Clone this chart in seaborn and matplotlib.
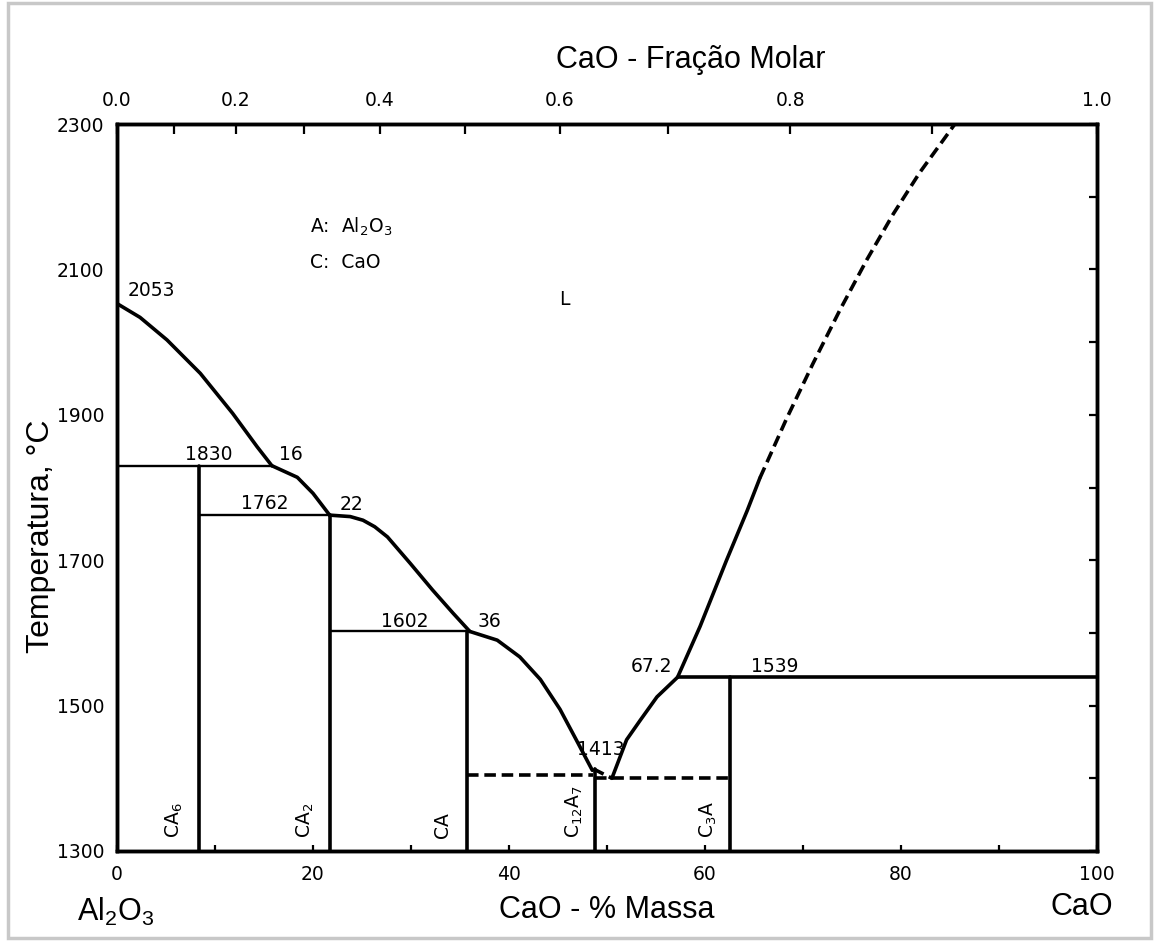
import numpy as np
import matplotlib
matplotlib.use("Agg")
import matplotlib.pyplot as plt
from matplotlib.patches import Rectangle
from matplotlib.ticker import MultipleLocator, FixedLocator, NullFormatter
import seaborn as sns

# STYLE
sns.set_theme(style="white")
plt.rcParams.update({
    "font.family": ["DejaVu Sans"],
    "axes.linewidth": 2.5,
    "axes.edgecolor": "black",
    "text.color": "black",
    "xtick.color": "black",
    "ytick.color": "black",
    "axes.labelcolor": "black",
})

BIG_FONT = ["Liberation Sans", "DejaVu Sans"]

# DATA (CaO % massa, temperatura em C)
# liquidus curves
liq_al2o3_x = [0, 2.35, 5.1, 8.5, 11.8, 14.3, 15.8]
liq_al2o3_T = [2053, 2034, 2003, 1957, 1902, 1856, 1830]

liq_ca6_x = [15.8, 18.4, 20.0, 21.7]
liq_ca6_T = [1830, 1814, 1792, 1762]

liq_ca2_x = [21.7, 23.8, 25.1, 26.3, 27.6, 29.9, 32.2, 34.3, 36.0]
liq_ca2_T = [1762, 1760, 1755, 1746, 1732, 1696, 1659, 1627, 1602]

liq_ca_x = [36.0, 38.8, 41.1, 43.2, 45.2, 46.9, 48.5]
liq_ca_T = [1602, 1590, 1567, 1536, 1495, 1452, 1411]

liq_c12a7_x = [50.5, 52.0, 53.4, 55.1, 57.2]
liq_c12a7_T = [1400, 1453, 1480, 1512, 1539]

liq_c3a_x = [57.2, 59.5, 62.2, 64.3, 65.6]
liq_c3a_T = [1539, 1609, 1700, 1768, 1813]

liq_cao_x = [65.6, 68.3, 71.0, 73.8, 76.5, 79.2, 81.9, 85.5]
liq_cao_T = [1813, 1894, 1970, 2045, 2113, 2176, 2233, 2300]

metastable_x = [48.6, 50.5]
metastable_T = [1413, 1400]

# invariant lines: (x start, x end, T)
eutectic_thin = [(0, 15.8, 1830), (8.4, 21.7, 1762), (21.7, 36.0, 1602)]
eutectic_thick = [(57.2, 100, 1539)]
eutectic_dashed = [(35.7, 48.6, 1405), (48.8, 62.5, 1400)]

# compounds
compound_x = [8.4, 21.7, 35.7, 48.8, 62.5]
compound_top = [1830, 1762, 1602, 1413, 1539]
compound_labels = [r"CA$\mathregular{_6}$", r"CA$\mathregular{_2}$", "CA",
                   r"C$\mathregular{_{12}}$A$\mathregular{_7}$",
                   r"C$\mathregular{_3}$A"]
compound_label_x = [5.9, 19.2, 33.2, 46.7, 60.3]

# point labels: (text, x, T)
point_labels = [("2053", 1.1, 2071), ("1830", 9.4, 1845), ("16", 17.7, 1845),
                ("1762", 15.1, 1778), ("22", 23.9, 1777), ("1602", 29.4, 1616),
                ("36", 38.0, 1616), ("1413", 49.4, 1439), ("67.2", 54.5, 1554),
                ("1539", 67.1, 1554), ("L", 45.7, 2058)]

# top axis: mole fraction ticks placed on the mass % scale
mole_major_pos = [0, 12.1, 26.8, 45.2, 68.7, 100]
mole_major_labels = ["0.0", "0.2", "0.4", "0.6", "0.8", "1.0"]
mole_minor_pos = [5.8, 19.1, 35.5, 56.2, 83.2]

mass_ticks = [0, 20, 40, 60, 80, 100]
temp_ticks = [1300, 1500, 1700, 1900, 2100, 2300]

THICK = 2.6
THIN = 1.7
DASH = (0, (3.2, 1.6))


def draw(ax, x, y, lw=THICK, ls="-"):
    sns.lineplot(x=x, y=y, ax=ax, color="black", lw=lw, linestyle=ls,
                 sort=False, estimator=None, legend=False)


# FIGURE
fig = plt.figure(figsize=(11.57, 9.41), dpi=100)
ax = fig.add_axes([117 / 1157, 1 - 851 / 941, 980 / 1157, 727 / 941])

# liquidus
draw(ax, liq_al2o3_x, liq_al2o3_T)
draw(ax, liq_ca6_x, liq_ca6_T)
draw(ax, liq_ca2_x, liq_ca2_T)
draw(ax, liq_ca_x, liq_ca_T)
draw(ax, liq_c12a7_x, liq_c12a7_T)
draw(ax, liq_c3a_x, liq_c3a_T)
draw(ax, liq_cao_x, liq_cao_T, ls=DASH)
draw(ax, metastable_x, metastable_T, ls=DASH)

# invariants
for x0, x1, t in eutectic_thin:
    draw(ax, [x0, x1], [t, t], lw=THIN)
for x0, x1, t in eutectic_thick:
    draw(ax, [x0, x1], [t, t])
for x0, x1, t in eutectic_dashed:
    draw(ax, [x0, x1], [t, t], ls=DASH)

# compounds
for cx, top, lab, lx in zip(compound_x, compound_top, compound_labels, compound_label_x):
    draw(ax, [cx, cx], [1300, top])
    ax.text(lx, 1318, lab, rotation=90, ha="center", va="bottom", fontsize=13.5)

for txt, px, pt in point_labels:
    ax.text(px, pt, txt, ha="center" if txt != "2053" else "left", va="center", fontsize=13.5)

ax.text(19.7, 2158, r"A:  Al$\mathregular{_2}$O$\mathregular{_3}$", ha="left", va="center", fontsize=13.5)
ax.text(19.7, 2110, "C:  CaO", ha="left", va="center", fontsize=13.5)

# AXES
ax.set_xlim(0, 100)
ax.set_ylim(1300, 2300)
ax.set_xticks(mass_ticks)
ax.xaxis.set_minor_locator(MultipleLocator(10))
ax.set_yticks(temp_ticks)
ax.yaxis.set_minor_locator(MultipleLocator(100))
ax.tick_params(axis="both", which="both", direction="in", width=1.6, labelsize=13.5,
               top=True, right=True, labeltop=False)
ax.tick_params(axis="x", which="both", length=4, pad=10)
ax.tick_params(axis="y", which="both", length=6, pad=9)
ax.set_xlabel("")
ax.set_ylabel("")
ax.grid(False)

ax2 = ax.twiny()
ax2.set_xlim(0, 100)
ax2.set_xticks(mole_major_pos)
ax2.set_xticklabels(mole_major_labels)
ax2.xaxis.set_minor_locator(FixedLocator(mole_minor_pos))
ax2.xaxis.set_minor_formatter(NullFormatter())
ax2.tick_params(axis="x", which="both", direction="in", length=7, width=1.6,
                labelsize=13.5, pad=10)
ax2.grid(False)

# LABELS
fig.text(691 / 1157, 1 - 60 / 941, "CaO - Fração Molar", ha="center", va="center",
         fontsize=22, family=BIG_FONT)
fig.text(607 / 1157, 1 - 910 / 941, "CaO - % Massa", ha="center", va="center",
         fontsize=22, family=BIG_FONT)
fig.text(116 / 1157, 1 - 912 / 941, r"Al$\mathregular{_2}$O$\mathregular{_3}$",
         ha="center", va="center", fontsize=22, family=BIG_FONT)
fig.text(1082 / 1157, 1 - 907 / 941, "CaO", ha="center", va="center",
         fontsize=22, family=BIG_FONT)
fig.text(41 / 1157, 1 - 536 / 941, "Temperatura, °C", ha="center", va="center",
         rotation=90, fontsize=23, family=BIG_FONT)

# BORDER
fig.add_artist(Rectangle((8 / 1157, 3 / 941), 1143 / 1157, 935 / 941,
                         transform=fig.transFigure, fill=False,
                         ec="#c8c8c8", lw=2.5))

fig.savefig("out.png", dpi=100)
